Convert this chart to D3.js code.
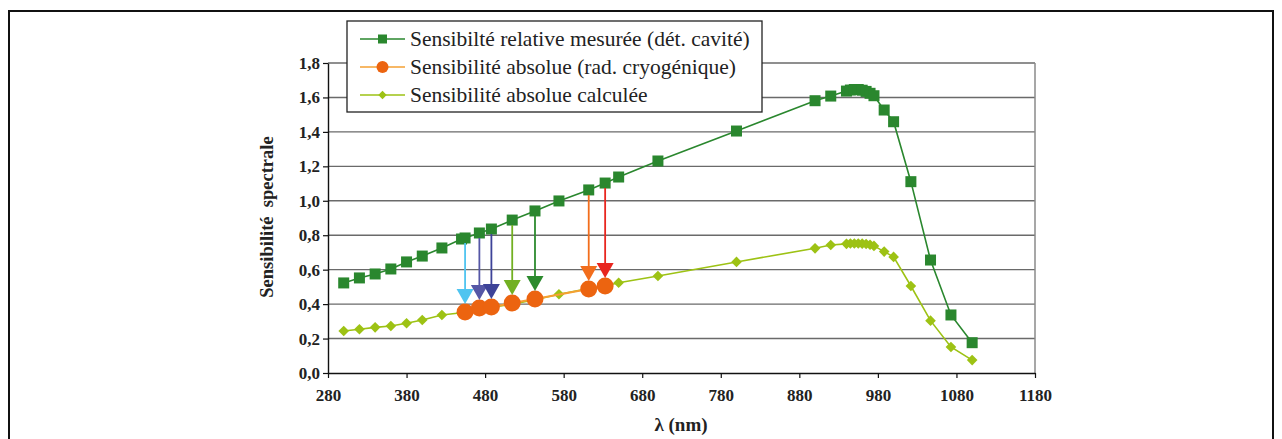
<!DOCTYPE html>
<html>
<head>
<meta charset="utf-8">
<script src="https://cdn.jsdelivr.net/npm/d3@7"></script>
<style>
  body { margin: 0; background: #fff; }
  svg text { font-family: "Liberation Serif", "DejaVu Serif", serif !important; }
</style>
</head>
<body>
<div class="canvas"></div>
<script>
// wavelengths (nm) and values
const lambdaRel = [300,320,340,360,380,400,425,450,454.5,472.7,488,514.5,543.5,574,611.9,632.8,650,700,800,900,920,940,945,950,955,960,965,970,975,988,1000,1022,1047,1073,1100];
const relVals = [0.523,0.552,0.575,0.604,0.645,0.679,0.726,0.778,0.784,0.813,0.836,0.888,0.941,0.999,1.063,1.103,1.138,1.231,1.405,1.581,1.608,1.637,1.643,1.646,1.646,1.642,1.635,1.624,1.610,1.527,1.459,1.111,0.656,0.337,0.176];

const lambdaAbs = [454.5,472.7,488,514.5,543.5,611.9,632.8];
const absVals = [0.354,0.377,0.383,0.406,0.430,0.488,0.505];
const arrowColors = ['#4fc4f0','#5557a6','#3d4398','#72b022','#2c8a2e','#f26d1c','#e8261f'];

const lambdaCalc = lambdaRel;
const calcVals = [0.244,0.254,0.265,0.273,0.289,0.308,0.337,0.350,0.354,0.372,0.380,0.400,0.425,0.457,0.490,0.505,0.524,0.563,0.645,0.724,0.743,0.750,0.752,0.752,0.752,0.751,0.749,0.745,0.738,0.705,0.674,0.505,0.304,0.151,0.075];

const xTicks = [280,380,480,580,680,780,880,980,1080,1180];
const yTicks = [0,0.2,0.4,0.6,0.8,1.0,1.2,1.4,1.6,1.8];

const legendLabels = [
  'Sensibilté relative mesurée (dét. cavité)',
  'Sensibilité absolue (rad. cryogénique)',
  'Sensibilité absolue calculée'
];

const W = 1282, H = 439;
const serif = '"Liberation Serif", "DejaVu Serif", serif';
const darkGreen = '#2a872e', orange = '#ec6410', orangeLine = '#f5a033', lime = '#9dc214';

const svg = d3.select('.canvas').append('svg')
  .attr('width', W).attr('height', H)
  .attr('font-family', serif);

// outer frame
svg.append('rect')
  .attr('x', 9).attr('y', 11).attr('width', 1264).attr('height', 440)
  .attr('fill', 'none').attr('stroke', '#111').attr('stroke-width', 2);

const x = d3.scaleLinear().domain([280, 1180]).range([328, 1035]);
const y = d3.scaleLinear().domain([0, 1.8]).range([373, 63]);

// gridlines
svg.append('g').selectAll('line')
  .data(yTicks.slice(1))
  .enter().append('line')
  .attr('x1', x(280)).attr('x2', x(1180))
  .attr('y1', d => y(d)).attr('y2', d => y(d))
  .attr('stroke', '#6a6a6a').attr('stroke-width', 1.4);

// right border
svg.append('line')
  .attr('x1', x(1180)).attr('x2', x(1180)).attr('y1', y(1.8)).attr('y2', y(0))
  .attr('stroke', '#8a8a8a').attr('stroke-width', 1.5);

// axes
const fmt = d => d3.format('.1f')(d).replace('.', ',');
const yAxis = svg.append('g')
  .attr('transform', `translate(${x(280)},0)`)
  .call(d3.axisLeft(y).tickValues(yTicks).tickFormat(fmt).tickSize(5).tickPadding(3).tickSizeOuter(0));
const xAxis = svg.append('g')
  .attr('transform', `translate(0,${y(0)})`)
  .call(d3.axisBottom(x).tickValues(xTicks).tickFormat(d3.format('d')).tickSize(5).tickPadding(11).tickSizeOuter(0));

[yAxis, xAxis].forEach(g => {
  g.attr('font-family', serif).attr('font-size', 17);
  g.select('.domain').attr('stroke', '#111').attr('stroke-width', 1.4);
  g.selectAll('.tick line').attr('stroke', '#111').attr('stroke-width', 1.2);
  g.selectAll('text').attr('font-weight', 'bold').attr('fill', '#222');
});

// titles
svg.append('text')
  .attr('transform', 'translate(267,217) rotate(-90)')
  .attr('text-anchor', 'middle').attr('dominant-baseline', 'central')
  .attr('font-size', 18.5).attr('font-weight', 'bold').attr('fill', '#222')
  .style('white-space', 'pre')
  .text('Sensibilité  spectrale');
svg.append('text')
  .attr('x', 681).attr('y', 424)
  .attr('text-anchor', 'middle').attr('dominant-baseline', 'central')
  .attr('font-size', 19).attr('font-weight', 'bold').attr('fill', '#222')
  .text('λ (nm)');

const line = d3.line().x(d => x(d[0])).y(d => y(d[1]));
const diamond = d3.symbol().type(d3.symbolDiamond2).size(72);

// calculated series
const calc = d3.zip(lambdaCalc, calcVals);
svg.append('path').datum(calc).attr('d', line)
  .attr('fill', 'none').attr('stroke', lime).attr('stroke-width', 1.6);
svg.append('g').selectAll('path').data(calc).enter().append('path')
  .attr('d', diamond)
  .attr('transform', d => `translate(${x(d[0])},${y(d[1])})`)
  .attr('fill', lime);

// measured relative series
const rel = d3.zip(lambdaRel, relVals);
svg.append('path').datum(rel).attr('d', line)
  .attr('fill', 'none').attr('stroke', darkGreen).attr('stroke-width', 1.6);
svg.append('g').selectAll('rect').data(rel).enter().append('rect')
  .attr('x', d => x(d[0]) - 5.5).attr('y', d => y(d[1]) - 5.5)
  .attr('width', 11).attr('height', 11)
  .attr('fill', darkGreen);

// absolute series
const abs = d3.zip(lambdaAbs, absVals);
svg.append('path').datum(abs).attr('d', line)
  .attr('fill', 'none').attr('stroke', orangeLine).attr('stroke-width', 2);
svg.append('g').selectAll('circle').data(abs).enter().append('circle')
  .attr('cx', d => x(d[0])).attr('cy', d => y(d[1])).attr('r', 8.5)
  .attr('fill', orange);

// arrows from measured square to absolute point
const relAt = l => relVals[lambdaRel.indexOf(l)];
const arrows = svg.append('g').selectAll('g').data(abs).enter().append('g');
arrows.append('line')
  .attr('x1', d => x(d[0])).attr('x2', d => x(d[0]))
  .attr('y1', d => y(relAt(d[0])) + 5)
  .attr('y2', d => y(d[1]) - 22)
  .attr('stroke', (d, i) => arrowColors[i]).attr('stroke-width', 1.8);
arrows.append('path')
  .attr('d', d => {
    const cx = x(d[0]), tip = y(d[1]) - 8;
    return `M${cx - 8.5},${tip - 15}L${cx + 8.5},${tip - 15}L${cx},${tip}Z`;
  })
  .attr('fill', (d, i) => arrowColors[i]);

// legend
const lg = svg.append('g');
lg.append('rect')
  .attr('x', 347).attr('y', 21).attr('width', 415).attr('height', 91)
  .attr('fill', '#fff').attr('stroke', '#222').attr('stroke-width', 1.3);
const rows = lg.selectAll('.row').data(legendLabels).enter().append('g')
  .attr('transform', (d, i) => `translate(0,${39 + i * 28})`);
rows.append('line')
  .attr('x1', 360).attr('x2', 405)
  .attr('stroke', (d, i) => [darkGreen, orangeLine, lime][i]).attr('stroke-width', 1.5);
rows.filter((d, i) => i === 0).append('rect')
  .attr('x', 378).attr('y', -4.5).attr('width', 9).attr('height', 9).attr('fill', darkGreen);
rows.filter((d, i) => i === 1).append('circle')
  .attr('cx', 382.5).attr('r', 6).attr('fill', orange);
rows.filter((d, i) => i === 2).append('path')
  .attr('d', d3.symbol().type(d3.symbolDiamond2).size(45)).attr('transform', 'translate(382.5,0)')
  .attr('fill', lime);
rows.append('text')
  .attr('x', 410).attr('dominant-baseline', 'central')
  .attr('font-size', 21.5).attr('fill', '#222')
  .text(d => d);
</script>
</body>
</html>
